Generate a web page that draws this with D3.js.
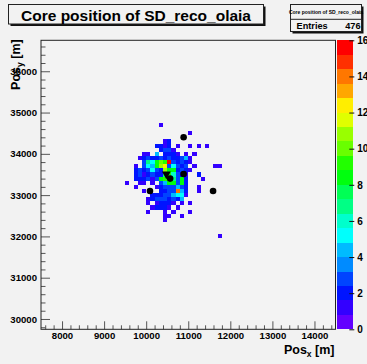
<!DOCTYPE html>
<html>
<head>
<meta charset="utf-8">
<script src="https://cdn.jsdelivr.net/npm/d3@7"></script>
<style>
  html, body { margin: 0; padding: 0; background: #f2f2f2; }
  svg { display: block; font-family: "Liberation Sans", Arial, Helvetica, sans-serif; }
</style>
</head>
<body>
<svg id="chart" width="367" height="364"></svg>
<script>
// ---- histogram definition -------------------------------------------------
const histTitle = "Core position of SD_reco_olaia";
const histEntries = 476;
const xDomain = [7500, 14500];          // Pos_x range [m]
const yDomain = [29750, 36750];         // Pos_y range [m]
const binSize = 100;                    // bin width in both directions [m]
const xTickValues = [8000, 9000, 10000, 11000, 12000, 13000, 14000];
const yTickValues = [30000, 31000, 32000, 33000, 34000, 35000, 36000];
const zTickValues = [0, 2, 4, 6, 8, 10, 12, 14, 16];
const zMax = 16;
const nContours = 20;

// Bin contents: rows run from high Pos_y to low Pos_y,
// columns from Pos_x = firstBinX upwards in steps of binSize.
const firstBinX = 9500;
const firstBinYTop = 34750;             // upper edge of the first row
const binCounts = [
  [0,0,0,0,0,0,0,0,1,0,0,0,0,0,0,0,0,0,0,0,0,0,0],
  [0,0,0,0,0,0,0,0,0,0,0,0,0,0,0,0,0,0,0,0,0,0,0],
  [0,0,0,0,0,0,0,0,0,0,0,0,0,0,0,1,0,0,0,0,0,0,0],
  [0,0,0,0,0,0,0,0,0,0,0,0,0,0,0,0,0,0,0,0,0,0,0],
  [0,0,0,0,0,0,0,0,0,1,2,0,0,0,0,0,0,0,0,0,0,0,0],
  [0,0,0,0,0,0,0,2,2,1,2,0,1,0,0,1,0,1,0,1,0,0,0],
  [0,0,0,0,0,0,0,0,2,3,3,1,0,0,0,0,0,0,0,0,0,0,0],
  [0,0,0,0,1,1,0,4,0,2,2,2,1,0,1,0,1,0,0,0,0,0,0],
  [0,0,0,1,2,3,2,2,3,2,3,2,2,3,4,1,0,0,0,0,0,0,0],
  [0,0,0,0,3,7,5,8,10,9,16,3,2,3,2,1,0,0,0,0,0,0,0],
  [0,0,1,0,3,5,4,8,11,12,3,5,3,2,3,0,1,0,0,0,0,1,1],
  [0,0,2,3,2,3,5,3,2,11,8,8,2,3,2,1,0,0,0,0,0,0,0],
  [0,0,2,3,1,2,3,2,2,7,9,6,3,2,1,0,0,2,0,0,0,0,0],
  [0,0,2,2,2,3,1,3,8,9,8,7,3,8,2,0,0,0,1,0,0,0,0],
  [1,0,0,1,1,0,1,0,3,4,8,8,3,8,2,0,0,0,0,0,0,0,0],
  [0,0,1,0,0,0,0,1,2,3,3,3,4,3,2,0,0,1,0,0,0,0,0],
  [0,0,0,0,1,0,0,0,2,2,3,3,14,4,2,0,0,1,0,0,0,0,0],
  [0,0,0,0,0,0,2,2,2,3,3,4,5,5,1,0,0,0,0,0,0,0,0],
  [0,0,0,0,0,1,2,3,3,3,2,3,2,4,0,0,0,0,0,0,0,0,0],
  [0,0,0,0,0,1,0,1,2,2,2,1,0,1,0,1,0,0,0,0,0,0,0],
  [0,0,0,0,0,0,1,2,2,2,1,0,1,0,0,0,0,0,0,0,0,0,0],
  [0,0,0,0,0,1,0,0,0,1,0,1,0,0,0,1,0,0,0,0,0,0,0],
  [0,0,0,0,0,0,0,0,0,1,1,0,0,1,0,0,0,0,0,0,0,0,0],
  [0,0,0,0,0,0,0,0,0,1,0,0,0,0,0,0,0,0,0,0,0,0,0],
  [0,0,0,0,0,0,0,0,0,0,0,0,0,0,0,0,0,0,0,0,0,0,0],
  [0,0,0,0,0,0,0,0,0,0,0,0,0,0,0,0,0,0,0,0,0,0,0],
  [0,0,0,0,0,0,0,0,0,0,0,0,0,0,0,0,0,0,0,0,0,0,0],
  [0,0,0,0,0,0,0,0,0,0,0,0,0,0,0,0,0,0,0,0,0,0,1]
];

// Station positions (filled circles) and reconstructed core (triangle)
const stationX = [10890, 10890, 10570, 10090, 11590];
const stationY = [34400, 33510, 33400, 33100, 33100];
const coreX = [10480];
const coreY = [33510];

// ---- layout ---------------------------------------------------------------
const frame = { left: 41, right: 335.5, top: 40.3, bottom: 329.3 };
const pal = { left: 337.3, right: 353.3 };

const svg = d3.select("#chart");
svg.append("rect").attr("width", 367).attr("height", 364).attr("fill", "#f2f2f2");

const x = d3.scaleLinear().domain(xDomain).range([frame.left, frame.right]);
const y = d3.scaleLinear().domain(yDomain).range([frame.bottom, frame.top]);
const z = d3.scaleLinear().domain([0, zMax]).range([frame.bottom, frame.top]);

// ROOT "pretty" palette: 50 hues from violet to red, 20 contour levels
function contourColor(level) {
  const nColors = 50;
  const idx = Math.floor((level + 0.99) * nColors / nContours);
  const hue = 280 - (idx + 1) * (280 / nColors);
  return d3.hsl(hue, 1, 0.5).formatHex();
}
function binColor(c) {
  const step = zMax / nContours;
  const level = Math.min(nContours - 1, Math.floor(c / step + 1e-9));
  return contourColor(level);
}

// frame background
svg.append("rect")
  .attr("x", frame.left).attr("y", frame.top)
  .attr("width", frame.right - frame.left).attr("height", frame.bottom - frame.top)
  .attr("fill", "#f3f3f3");

// ---- 2D histogram cells ---------------------------------------------------
const cells = [];
binCounts.forEach((row, r) => {
  row.forEach((c, k) => {
    if (c > 0) {
      const x0 = firstBinX + k * binSize;
      const yTop = firstBinYTop - r * binSize;
      cells.push({ x0, x1: x0 + binSize, y0: yTop - binSize, y1: yTop, c });
    }
  });
});

svg.append("g").attr("shape-rendering", "crispEdges")
  .selectAll("rect").data(cells).join("rect")
  .attr("x", d => x(d.x0))
  .attr("y", d => y(d.y1))
  .attr("width", d => x(d.x1) - x(d.x0))
  .attr("height", d => y(d.y0) - y(d.y1))
  .attr("fill", d => binColor(d.c));

// ---- markers ---------------------------------------------------------------
svg.append("g").selectAll("circle").data(stationX.map((v, i) => [v, stationY[i]]))
  .join("circle")
  .attr("cx", d => x(d[0])).attr("cy", d => y(d[1]))
  .attr("r", 3.3).attr("fill", "#000");

svg.append("g").selectAll("path").data(coreX.map((v, i) => [v, coreY[i]]))
  .join("path")
  .attr("transform", d => `translate(${x(d[0])},${y(d[1])}) rotate(180)`)
  .attr("d", d3.symbol(d3.symbolTriangle, 34)())
  .attr("fill", "#000");

// ---- axes ------------------------------------------------------------------
const minorX = d3.range(7600, 14500, 200).filter(v => v % 1000 !== 0);
const minorY = d3.range(29800, 36750, 200).filter(v => v % 1000 !== 0);

function styleAxis(g) {
  g.select(".domain").remove();
  g.selectAll(".tick line").attr("stroke", "#555");
  g.selectAll(".tick text")
    .attr("fill", "#000")
    .style("font-family", '"Liberation Sans", Arial, sans-serif')
    .style("font-size", "9.6px")
    .style("font-weight", "bold");
}

svg.append("g")
  .attr("transform", `translate(0,${frame.bottom})`)
  .call(d3.axisBottom(x).tickValues(minorX).tickSize(-4).tickFormat(""))
  .call(styleAxis);
svg.append("g")
  .attr("transform", `translate(0,${frame.bottom})`)
  .call(d3.axisBottom(x).tickValues(xTickValues).tickSize(-8).tickPadding(3).tickFormat(d3.format("d")))
  .call(styleAxis);

svg.append("g")
  .attr("transform", `translate(${frame.left},0)`)
  .call(d3.axisLeft(y).tickValues(minorY).tickSize(-4.5).tickFormat(""))
  .call(styleAxis);
svg.append("g")
  .attr("transform", `translate(${frame.left},0)`)
  .call(d3.axisLeft(y).tickValues(yTickValues).tickSize(-9).tickPadding(4).tickFormat(d3.format("d")))
  .call(styleAxis);

// frame border
svg.append("rect")
  .attr("x", frame.left).attr("y", frame.top)
  .attr("width", frame.right - frame.left).attr("height", frame.bottom - frame.top)
  .attr("fill", "none").attr("stroke", "#222").attr("stroke-width", 1);

// ---- palette (colour scale) -------------------------------------------------
const levels = d3.range(nContours);
svg.append("g").attr("shape-rendering", "crispEdges")
  .selectAll("rect").data(levels).join("rect")
  .attr("x", pal.left)
  .attr("width", pal.right - pal.left)
  .attr("y", k => z((k + 1) * zMax / nContours))
  .attr("height", k => z(k * zMax / nContours) - z((k + 1) * zMax / nContours))
  .attr("fill", k => contourColor(k));

svg.append("g")
  .attr("transform", `translate(${pal.right + 1},0)`)
  .call(d3.axisRight(z).tickValues(zTickValues).tickSize(-5).tickPadding(3).tickFormat(d3.format("d")))
  .call(g => {
    styleAxis(g);
    g.selectAll(".tick line").attr("stroke", "#111");
    g.selectAll(".tick text").style("font-size", "10px");
  });

// ---- axis titles -------------------------------------------------------------
const xTitle = svg.append("text")
  .attr("x", frame.right - 1).attr("y", 354)
  .attr("text-anchor", "end")
  .style("font-size", "12.5px").style("font-weight", "bold");
xTitle.append("tspan").text("Pos");
xTitle.append("tspan").attr("dy", 3).style("font-size", "8.5px").text("x");
xTitle.append("tspan").attr("dy", -3).text(" [m]");

const yTitle = svg.append("text")
  .attr("transform", `translate(19.5,${frame.top - 1}) rotate(-90)`)
  .attr("text-anchor", "end")
  .style("font-size", "12.5px").style("font-weight", "bold");
yTitle.append("tspan").text("Pos");
yTitle.append("tspan").attr("dy", 3).style("font-size", "8.5px").text("y");
yTitle.append("tspan").attr("dy", -3).text(" [m]");

// ---- title box ----------------------------------------------------------------
function paveBox(x0, y0, w, h) {
  svg.append("rect").attr("x", x0 + 2).attr("y", y0 + 2).attr("width", w).attr("height", h).attr("fill", "#111");
  svg.append("rect").attr("x", x0).attr("y", y0).attr("width", w).attr("height", h)
    .attr("fill", "#f2f2f2").attr("stroke", "#222").attr("stroke-width", 1);
}
paveBox(8.5, 4.5, 255, 19.5);
svg.append("text")
  .attr("x", 136).attr("y", 20.5)
  .attr("text-anchor", "middle")
  .style("font-size", "15.5px").style("font-weight", "bold")
  .text(histTitle);

// ---- statistics box -------------------------------------------------------------
paveBox(290.5, 4.5, 71, 27);
svg.append("line").attr("x1", 290.5).attr("x2", 361.5).attr("y1", 19.3).attr("y2", 19.3)
  .attr("stroke", "#222");
svg.append("text")
  .attr("x", 326).attr("y", 13.8).attr("text-anchor", "middle")
  .style("font-size", "5px").style("font-weight", "bold")
  .text(histTitle);
svg.append("text")
  .attr("x", 296.5).attr("y", 29)
  .style("font-size", "9.2px").style("font-weight", "bold")
  .text("Entries");
svg.append("text")
  .attr("x", 360.5).attr("y", 29).attr("text-anchor", "end")
  .style("font-size", "9.2px").style("font-weight", "bold")
  .text(histEntries);
</script>
</body>
</html>
